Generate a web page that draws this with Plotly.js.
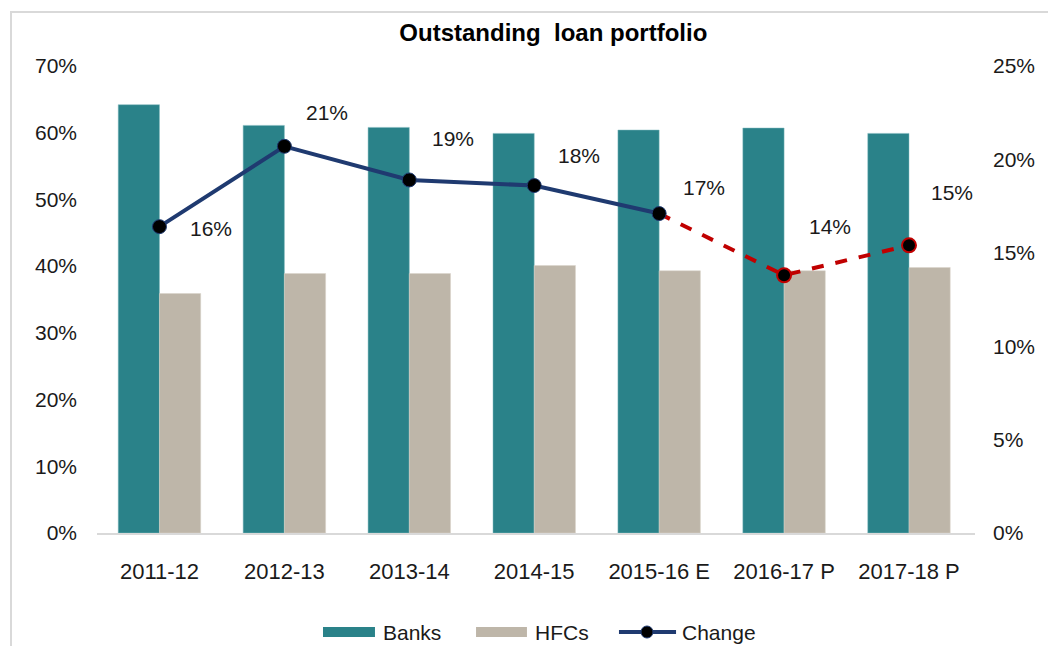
<!DOCTYPE html>
<html>
<head>
<meta charset="utf-8">
<script src="https://cdn.plot.ly/plotly-3.0.1.min.js"></script>
<style>
  html, body { margin: 0; padding: 0; background: #fff; }
  #wrap { position: relative; width: 1048px; height: 646px; overflow: hidden; }
  #frame { position: absolute; left: 10px; top: 11px; width: 1100px; height: 700px;
           border-top: 2px solid #D9D9D9; border-left: 2px solid #D9D9D9; }
  #chart { position: absolute; left: 0; top: 0; width: 1048px; height: 646px; }
</style>
</head>
<body>
<div id="wrap">
  <div id="frame"></div>
  <div id="chart"></div>
</div>
<script>
const categories = ["2011-12", "2012-13", "2013-14", "2014-15", "2015-16 E", "2016-17 P", "2017-18 P"];
const banks = [64.2, 61.1, 60.8, 59.9, 60.4, 60.7, 59.9];
const hfcs = [35.9, 38.9, 38.9, 40.1, 39.3, 39.3, 39.8];
const change = [16.4, 20.7, 18.9, 18.6, 17.1, 13.8, 15.4];
const changeLabels = ["16%", "21%", "19%", "18%", "17%", "14%", "15%"];
const seriesNames = ["Banks", "HFCs", "Change"];
const actualCount = 5; // first five points are actuals, last ones estimated/projected

const font = "Liberation Sans, Arial, sans-serif";
const txt = "#1a1a1a";
const cBanks = "#2A8289", cHfc = "#BEB6A9", cLine = "#1F3A70", cRed = "#C00000";

const solidX = categories.slice(0, actualCount);
const solidY = change.slice(0, actualCount);
const dashX = categories.slice(actualCount - 1);
const dashY = change.slice(actualCount - 1);
const projX = categories.slice(actualCount);
const projY = change.slice(actualCount);

const traces = [
  { type: "bar", name: seriesNames[0], x: categories, y: banks,
    marker: { color: cBanks, line: { color: "#7FB8BC", width: 0.5 } }, yaxis: "y" },
  { type: "bar", name: seriesNames[1], x: categories, y: hfcs,
    marker: { color: cHfc, line: { color: "#D8D2C8", width: 0.5 } }, yaxis: "y" },
  { type: "scatter", mode: "lines", x: dashX, y: dashY, yaxis: "y2",
    line: { color: cRed, width: 4, dash: "dash" }, hoverinfo: "skip" },
  { type: "scatter", mode: "markers", x: projX, y: projY, yaxis: "y2",
    marker: { color: "#000", size: 14, line: { color: cRed, width: 2 } } },
  { type: "scatter", mode: "lines+markers", name: seriesNames[2], x: solidX, y: solidY, yaxis: "y2",
    line: { color: cLine, width: 4 },
    marker: { color: "#000", size: 14, line: { color: cLine, width: 1 } } }
];

const shifts = [[52, -2], [43, 34], [44, 41], [45, 30], [45, 26], [46, 49], [43, 53]];
const annotations = categories.map((c, i) => ({
  x: c, y: change[i], xref: "x", yref: "y2", text: changeLabels[i], showarrow: false,
  xshift: shifts[i][0], yshift: shifts[i][1],
  font: { family: font, size: 21, color: txt }
}));

// custom legend (wide swatches like the original)
const legY = -0.212;
const shapes = [
  { type: "rect", xref: "paper", yref: "paper", x0: 0.2574, x1: 0.3166, y0: -0.2013, y1: -0.2227,
    fillcolor: cBanks, line: { width: 0 } },
  { type: "rect", xref: "paper", yref: "paper", x0: 0.4317, x1: 0.4897, y0: -0.2013, y1: -0.2227,
    fillcolor: cHfc, line: { width: 0 } },
  { type: "line", xref: "paper", yref: "paper", x0: 0.5945, x1: 0.6595, y0: legY, y1: legY,
    line: { color: cLine, width: 4 } },
  { type: "circle", xref: "paper", yref: "paper", xsizemode: "pixel", ysizemode: "pixel",
    xanchor: 0.6264, yanchor: legY, x0: -6, x1: 6, y0: -6, y1: 6,
    fillcolor: "#000", line: { color: cLine, width: 1 } }
];
[[0.3235, 0], [0.4966, 1], [0.664, 2]].forEach(([x, k]) => annotations.push({
  xref: "paper", yref: "paper", x: x, y: legY, xanchor: "left", yanchor: "middle",
  text: seriesNames[k], showarrow: false, font: { family: font, size: 21, color: txt }
}));

const layout = {
  width: 1048, height: 646,
  paper_bgcolor: "rgba(0,0,0,0)", plot_bgcolor: "rgba(0,0,0,0)",
  margin: { l: 97, r: 73, t: 66, b: 113 },
  title: { text: "<b>Outstanding  loan portfolio</b>", xref: "container", yref: "container",
           x: 0.528, y: 0.949, xanchor: "center", yanchor: "middle",
           font: { family: font, size: 24, color: "#000" } },
  barmode: "group", bargap: 0.34, bargroupgap: 0,
  xaxis: { type: "category", showgrid: false, showline: true, linecolor: "#D9D9D9", linewidth: 2,
           ticks: "", ticklabelstandoff: 18, tickfont: { family: font, size: 22, color: txt },
           zeroline: false, automargin: false },
  yaxis: { range: [0, 70], dtick: 10, ticksuffix: "%", showgrid: false, zeroline: false, automargin: false,
           ticks: "", ticklabelstandoff: 19, tickfont: { family: font, size: 21, color: txt } },
  yaxis2: { range: [0, 25], dtick: 5, ticksuffix: "%", overlaying: "y", side: "right", automargin: false,
            showgrid: false, zeroline: false, ticks: "", ticklabelstandoff: 17,
            tickfont: { family: font, size: 21, color: txt } },
  showlegend: false,
  annotations: annotations,
  shapes: shapes
};

Plotly.newPlot("chart", traces, layout, { displayModeBar: false, staticPlot: true });
</script>
</body>
</html>
